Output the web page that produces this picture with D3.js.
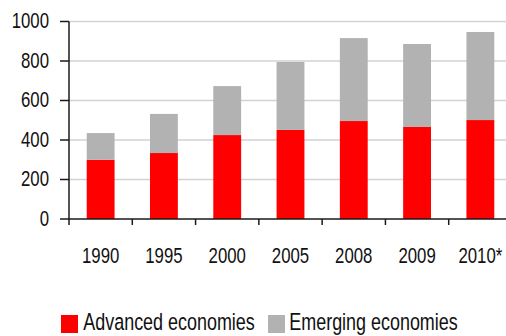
<!DOCTYPE html>
<html>
<head>
<meta charset="utf-8">
<script src="https://cdn.jsdelivr.net/npm/d3@7"></script>
<style>
  html, body { margin: 0; padding: 0; background: #fff; }
  svg { display: block; }
  text { font-family: "Liberation Sans", Arial, sans-serif; fill: #111; }
</style>
</head>
<body>
<svg id="chart" width="506" height="336"></svg>
<script>
// Data
const years = ["1990", "1995", "2000", "2005", "2008", "2009", "2010*"];
const advanced = [300, 334, 425, 451, 496, 466, 501];
const emerging = [135, 198, 248, 344, 420, 420, 446];
const yTicks = [0, 200, 400, 600, 800, 1000];
const seriesNames = ["Advanced economies", "Emerging economies"];
const seriesColors = ["#ff0000", "#b2b2b2"];

const svg = d3.select("#chart");

// Plot area
const x0 = 69, x1 = 512, yBase = 219, yTop = 21.5;

const x = d3.scaleBand().domain(years).range([x0, x1]).padding(0);
const y = d3.scaleLinear().domain([0, 1000]).range([yBase, yTop]);
const barW = x.bandwidth() * 0.44;

// Condensed-looking text: scale horizontally around anchor
function label(g, px, py, txt, size, sx, anchor) {
  g.append("g")
    .attr("transform", `translate(${px},${py}) scale(${sx},1)`)
    .append("text")
    .attr("x", 0).attr("y", 0)
    .attr("text-anchor", anchor)
    .style("font-size", size + "px")
    .text(txt);
}

// Gridlines
svg.append("g").selectAll("line")
  .data(yTicks.filter(d => d > 0))
  .join("line")
  .attr("x1", x0).attr("x2", 506)
  .attr("y1", d => y(d)).attr("y2", d => y(d))
  .attr("stroke", "#d2d2d2")
  .attr("stroke-width", 1.3);

// Stacked bars
const stackData = years.map((yr, i) => ({ year: yr, adv: advanced[i], emg: emerging[i] }));
const stack = d3.stack().keys(["adv", "emg"])(stackData);

svg.append("g").selectAll("g")
  .data(stack)
  .join("g")
  .attr("fill", (d, i) => seriesColors[i])
  .selectAll("rect")
  .data(d => d)
  .join("rect")
  .attr("x", d => x(d.data.year) + (x.bandwidth() - barW) / 2)
  .attr("width", barW)
  .attr("y", d => y(d[1]))
  .attr("height", d => y(d[0]) - y(d[1]));

// Axes
const axisColor = "#1a1a1a";
const ax = svg.append("g").attr("stroke", axisColor).attr("stroke-width", 1.5);

// y axis line and ticks
ax.append("line").attr("x1", x0).attr("x2", x0).attr("y1", yTop).attr("y2", yBase + 6);
ax.selectAll(".ytick").data(yTicks).join("line")
  .attr("class", "ytick")
  .attr("x1", x0 - 9).attr("x2", x0)
  .attr("y1", d => y(d)).attr("y2", d => y(d));

// x axis line and ticks at category boundaries
ax.append("line").attr("x1", x0).attr("x2", 506).attr("y1", yBase).attr("y2", yBase);
ax.selectAll(".xtick").data(years.slice(1)).join("line")
  .attr("class", "xtick")
  .attr("x1", d => x(d)).attr("x2", d => x(d))
  .attr("y1", yBase).attr("y2", yBase + 6);

// Tick labels
const labels = svg.append("g");
yTicks.forEach(t => label(labels, 49, y(t) + 6.5, String(t), 21.4, 0.785, "end"));
years.forEach(yr => label(labels, x(yr) + x.bandwidth() / 2, 262.7, yr, 21.4, 0.785, "middle"));

// Legend
const legend = svg.append("g");
const legendItems = [
  { name: seriesNames[0], color: seriesColors[0], sx: 61, tx: 83.3 },
  { name: seriesNames[1], color: seriesColors[1], sx: 268, tx: 289.3 }
];
legendItems.forEach(it => {
  legend.append("rect")
    .attr("x", it.sx).attr("y", 315)
    .attr("width", 17).attr("height", 18)
    .attr("fill", it.color);
  label(legend, it.tx, 330, it.name, 23.3, 0.77, "start");
});
</script>
</body>
</html>
